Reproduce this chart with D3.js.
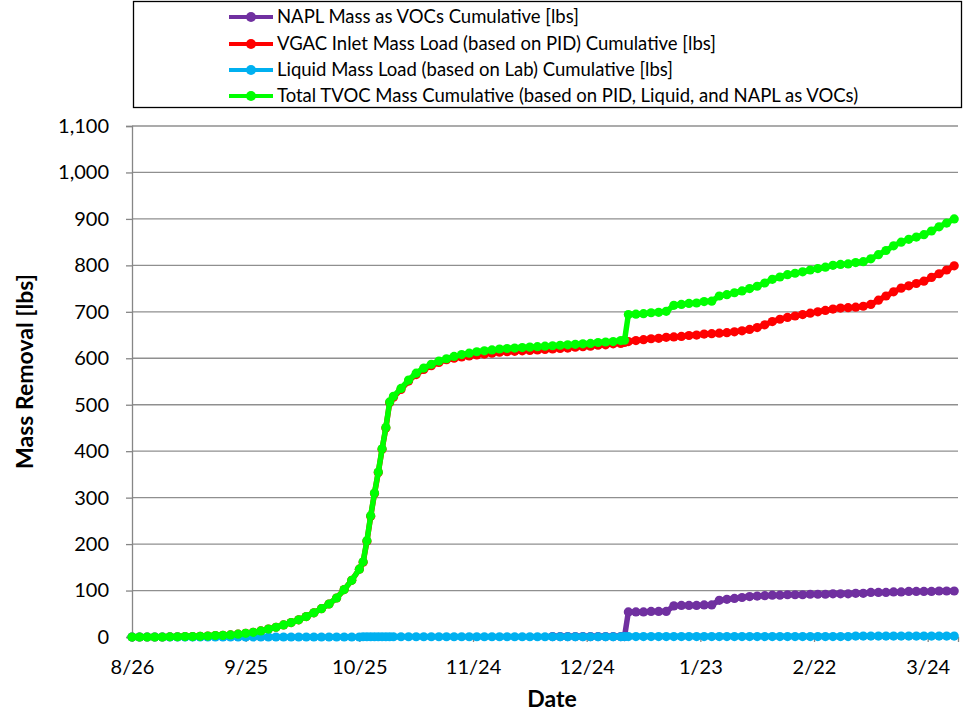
<!DOCTYPE html>
<html>
<head>
<meta charset="utf-8">
<script src="https://cdn.jsdelivr.net/npm/d3@7"></script>
<style>
  html, body { margin: 0; padding: 0; background: #fff; }
  svg { display: block; }
  text { font-family: Lato, "Open Sans", sans-serif; fill: #000; }
</style>
</head>
<body>
<svg id="chart" width="963" height="714"></svg>
<script>
// Sampling dates (m/d/yy)
const dates = ["8/26/13","8/28/13","8/30/13","9/1/13","9/3/13","9/5/13","9/7/13","9/9/13","9/11/13","9/13/13","9/15/13","9/17/13","9/19/13","9/21/13","9/23/13","9/25/13","9/27/13","9/29/13","10/1/13","10/3/13","10/5/13","10/7/13","10/9/13","10/11/13","10/13/13","10/15/13","10/17/13","10/19/13","10/21/13","10/23/13","10/25/13",
  "10/26/13","10/27/13","10/28/13","10/29/13","10/30/13","10/31/13","11/1/13","11/2/13",
  "11/3/13","11/5/13","11/7/13","11/9/13","11/11/13","11/13/13","11/15/13","11/17/13","11/19/13","11/21/13","11/23/13","11/25/13","11/27/13","11/29/13","12/1/13","12/3/13","12/5/13","12/7/13","12/9/13","12/11/13","12/13/13","12/15/13","12/17/13","12/19/13","12/21/13","12/23/13","12/25/13","12/27/13","12/29/13","12/31/13","1/2/14",
  "1/3/14",
  "1/4/14","1/6/14","1/8/14","1/10/14","1/12/14","1/14/14","1/16/14","1/18/14","1/20/14","1/22/14","1/24/14","1/26/14","1/28/14","1/30/14","2/1/14","2/3/14","2/5/14","2/7/14","2/9/14","2/11/14","2/13/14","2/15/14","2/17/14","2/19/14","2/21/14","2/23/14","2/25/14","2/27/14","3/1/14","3/3/14","3/5/14","3/7/14","3/9/14","3/11/14","3/13/14","3/15/14","3/17/14","3/19/14","3/21/14","3/23/14","3/25/14","3/27/14","3/29/14","3/31/14"];

// NAPL mass as VOCs, cumulative [lbs] (no record before mid-December)
const naplCum = [null,null,null,null,null,null,null,null,null,null,null,null,null,null,null,null,null,null,null,null,null,null,null,null,null,null,null,null,null,null,null,
  null,null,null,null,null,null,null,null,
  null,null,null,null,null,null,null,null,null,null,null,null,null,null,null,null,null,null,null,null,null,1,1,1,1,1,1,1,1,1,1,
  1,
  54,54,54,55,55,55,67,68,68,68,69,69,79,81,83,85,87,88,89,90,90,91,91,91,92,92,92,93,93,93,94,94,96,96,96,97,97,98,98,98,98,99,99,99];

// VGAC inlet mass load (PID based), cumulative [lbs]
const vgacCum = [0,0,0,0,0,0.5,0.5,1,1,1.5,2,3,3.5,4.5,6,8,10,13,17,21,26,31,37,44,52,61,71,84,102,122,146,
  161,206,260,309,354,404,450,504,
  516,533,551,565,576,584,591,597,600,603,605,607,609,611,613,614,615,616,617,618,619,620,621,622,624,625,626,628,629,631,632,
  634,
  636,638,640,642,643,645,646,647,649,650,652,653,654,655,657,659,662,666,672,679,684,688,691,694,697,700,703,706,708,709,710,712,716,725,734,743,751,756,761,766,774,782,790,799];

// Liquid mass load (lab based), cumulative [lbs]
const liquidCum = [0,0,0,0,0,0,0,0,0,0,0,0,0,0,0,0,0,0,0,0,0,0,0,0,0,0,0,0,0,0,0,
  0.5,0.5,0.5,0.5,0.5,0.5,0.5,0.5,
  0.5,0.5,0.5,0.5,0.5,0.5,0.5,0.5,0.5,0.5,0.5,0.5,0.5,0.5,0.5,0.5,0.5,0.5,0.5,0.5,0.5,0.5,0.5,0.5,0.5,0.5,0.5,0.5,0.5,0.5,0.5,
  1,
  1,1,1,1,1,1,1,1,1,1,1,1,1,1,1,1,1,1,1,1,1,1,1,1,1,1,1,1,1,1,2,2,2,2,2,2,2,2,2,2,2,2,2,2];

// Total TVOC mass, cumulative [lbs]
const totalCum = [0,0,0,0,0,0.5,0.5,1,1,1.5,2,3,3.5,4.5,6,8,10,13,17,21,26,31,37,44,52,61,71,84,102,122,146,
  162,207,261,310,355,405,451,506,
  518,535,553,568,579,587,594,599,604,608,611,614,616,618,620,621,622,623,624,625,626,627,628,629,630,631,632,634,635,636,638,
  639,
  694,695,696,698,699,701,714,716,718,719,722,723,734,737,741,745,750,755,762,770,775,780,783,786,790,793,796,800,802,803,806,808,814,823,832,842,850,856,861,866,874,883,891,900];

const seriesNames = [
  "NAPL Mass as VOCs Cumulative [lbs]",
  "VGAC Inlet Mass Load (based on PID) Cumulative [lbs]",
  "Liquid Mass Load (based on Lab) Cumulative [lbs]",
  "Total TVOC Mass Cumulative (based on PID, Liquid, and NAPL as VOCs)"
];
const seriesColors = ["#7030A0", "#FF0000", "#00B0F0", "#00FF00"];
const seriesValues = [naplCum, vgacCum, liquidCum, totalCum];

const xTickLabels = ["8/26/13","9/25/13","10/25/13","11/24/13","12/24/13","1/23/14","2/22/14","3/24/14"];
const xDomain = ["8/26/13", "4/1/14"];
const yTicks = [0,100,200,300,400,500,600,700,800,900,1000,1100];

const parse = d3.timeParse("%m/%d/%y");
const svg = d3.select("#chart");

const plot = { left: 132, right: 958, top: 126, bottom: 637 };

const x = d3.scaleTime()
  .domain(xDomain.map(parse))
  .range([plot.left, plot.right]);
const y = d3.scaleLinear()
  .domain([0, 1100])
  .range([plot.bottom, plot.top]);

const axisColor = "#868686";

// horizontal gridlines
svg.append("g")
  .selectAll("line")
  .data(yTicks.filter(v => v > 0))
  .join("line")
  .attr("x1", plot.left).attr("x2", plot.right)
  .attr("y1", d => y(d)).attr("y2", d => y(d))
  .attr("stroke", "#8f8f8f").attr("stroke-width", 1.3);

// y axis
const yAxis = svg.append("g")
  .attr("transform", `translate(${plot.left},0)`)
  .call(d3.axisLeft(y).tickValues(yTicks).tickFormat(d3.format(",")).tickSize(6).tickPadding(17));
yAxis.select(".domain").attr("stroke", axisColor).attr("stroke-width", 1.3);
yAxis.selectAll(".tick line").attr("stroke", axisColor).attr("stroke-width", 1.3);
yAxis.selectAll(".tick text").style("font-size", "20px").style("font-family", "Lato, sans-serif").attr("fill", "#000");

// x axis
const xAxis = svg.append("g")
  .attr("transform", `translate(0,${plot.bottom})`)
  .call(d3.axisBottom(x).tickValues(xTickLabels.map(parse)).tickFormat(d3.timeFormat("%-m/%-d")).tickSize(5).tickPadding(18));
xAxis.select(".domain").attr("stroke", axisColor).attr("stroke-width", 1.3);
xAxis.selectAll(".tick line").attr("stroke", axisColor).attr("stroke-width", 1.3);
xAxis.selectAll(".tick text").style("font-size", "20px").style("font-family", "Lato, sans-serif").attr("fill", "#000");

// axis titles
svg.append("text")
  .attr("transform", `translate(33,${(plot.top + plot.bottom) / 2 - 10}) rotate(-90)`)
  .attr("text-anchor", "middle")
  .style("font-size", "23px").style("font-weight", "bold")
  .text("Mass Removal [lbs]");
svg.append("text")
  .attr("x", 552).attr("y", 707)
  .attr("text-anchor", "middle")
  .style("font-size", "23px").style("font-weight", "bold")
  .text("Date");

// series lines with point markers
const parsedDates = dates.map(parse);
const line = d3.line()
  .defined(d => d.v != null)
  .x(d => x(d.date))
  .y(d => y(d.v));

seriesValues.forEach((vals, i) => {
  const pts = parsedDates.map((date, k) => ({ date, v: vals[k] }));
  const g = svg.append("g");
  g.append("path")
    .datum(pts)
    .attr("fill", "none")
    .attr("stroke", seriesColors[i])
    .attr("stroke-width", 5.5)
    .attr("stroke-linejoin", "round")
    .attr("d", line);
  g.selectAll("circle")
    .data(pts.filter(d => d.v != null))
    .join("circle")
    .attr("cx", d => x(d.date))
    .attr("cy", d => y(d.v))
    .attr("r", 4.6)
    .attr("fill", seriesColors[i]);
});

// legend
const legend = svg.append("g");
legend.append("rect")
  .attr("x", 133.5).attr("y", 1.5)
  .attr("width", 828).attr("height", 106)
  .attr("fill", "#fff").attr("stroke", "#000").attr("stroke-width", 1.3);
const rowY = [17, 44, 70, 96];
seriesNames.forEach((name, i) => {
  const row = legend.append("g").attr("transform", `translate(0,${rowY[i]})`);
  row.append("line")
    .attr("x1", 229).attr("x2", 273)
    .attr("stroke", seriesColors[i]).attr("stroke-width", 4);
  row.append("circle")
    .attr("cx", 251).attr("cy", 0).attr("r", 5)
    .attr("fill", seriesColors[i]);
  row.append("text")
    .attr("x", 277).attr("y", 6)
    .style("font-size", "18.5px")
    .text(name);
});
</script>
</body>
</html>
